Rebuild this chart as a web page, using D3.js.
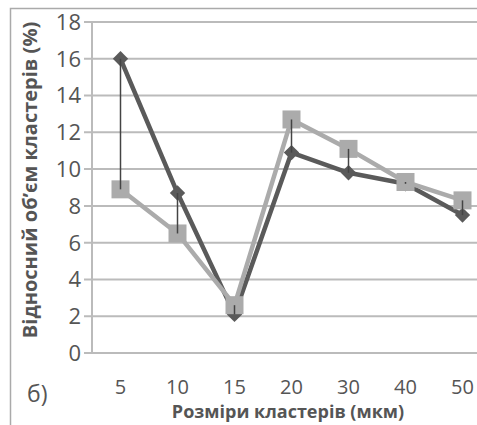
<!DOCTYPE html>
<html>
<head>
<meta charset="utf-8">
<script src="https://cdn.jsdelivr.net/npm/d3@7"></script>
<style>
  body { margin: 0; background: #fff; }
  text { font-family: "Open Sans", "DejaVu Sans", sans-serif; fill: #555; }
</style>
</head>
<body>
<div id="chart"></div>
<script>
// categories: cluster sizes (um)
const sizes = ['5', '10', '15', '20', '30', '40', '50'];
// series values (%)
const darkSeries = [16.0, 8.7, 2.1, 10.9, 9.8, 9.2, 7.5];
const lightSeries = [8.9, 6.5, 2.6, 12.7, 11.1, 9.3, 8.3];
const yTicks = [0, 2, 4, 6, 8, 10, 12, 14, 16, 18];

const width = 477, height = 425;

const svg = d3.select('#chart')
    .append('svg')
        .attr('width', width)
        .attr('height', height);

// chart frame
svg.append('rect')
    .attr('x', 10.5).attr('y', 8.5)
    .attr('width', 500).attr('height', 500)
    .attr('fill', 'none')
    .attr('stroke', '#aaa')
    .attr('stroke-width', 1.5);

const x = d3.scaleBand().domain(sizes).range([92, 491]);
const y = d3.scaleLinear().domain([0, 18]).range([353, 22]);
const cx = d => x(d) + x.bandwidth() / 2;

// gridlines
svg.append('g')
    .selectAll('line')
    .data(yTicks)
    .enter()
    .append('line')
        .attr('x1', 84).attr('x2', 491)
        .attr('y1', d => y(d)).attr('y2', d => y(d))
        .attr('stroke', '#bbb')
        .attr('stroke-width', 2);

// left axis line
svg.append('line')
    .attr('x1', 92).attr('x2', 92)
    .attr('y1', y(18)).attr('y2', y(0))
    .attr('stroke', '#bbb')
    .attr('stroke-width', 2);

// y tick labels
svg.append('g')
    .selectAll('text')
    .data(yTicks)
    .enter()
    .append('text')
        .attr('x', 81)
        .attr('y', d => y(d))
        .attr('dy', '0.36em')
        .attr('text-anchor', 'end')
        .style('font-size', '22px')
        .text(d => d);

// x tick labels
svg.append('g')
    .selectAll('text')
    .data(sizes)
    .enter()
    .append('text')
        .attr('x', d => cx(d))
        .attr('y', 387)
        .attr('dy', '0.36em')
        .attr('text-anchor', 'middle')
        .style('font-size', '20px')
        .text(d => d);

const line = d3.line()
    .x((d, i) => cx(sizes[i]))
    .y(d => y(d));

// dark series
svg.append('path')
    .datum(darkSeries)
    .attr('d', line)
    .attr('fill', 'none')
    .attr('stroke', '#5a5a5a')
    .attr('stroke-width', 4.5)
    .attr('stroke-linejoin', 'round');

svg.append('g')
    .selectAll('path')
    .data(darkSeries)
    .enter()
    .append('path')
        .attr('d', d3.symbol().type(d3.symbolDiamond2).size(150))
        .attr('transform', (d, i) => 'translate(' + cx(sizes[i]) + ',' + y(d) + ')')
        .attr('fill', '#5a5a5a');

// light series
svg.append('path')
    .datum(lightSeries)
    .attr('d', line)
    .attr('fill', 'none')
    .attr('stroke', '#ababab')
    .attr('stroke-width', 4.5)
    .attr('stroke-linejoin', 'round');

svg.append('g')
    .selectAll('rect')
    .data(lightSeries)
    .enter()
    .append('rect')
        .attr('x', (d, i) => cx(sizes[i]) - 9)
        .attr('y', d => y(d) - 9)
        .attr('width', 18)
        .attr('height', 18)
        .attr('fill', '#ababab');

// high-low lines
svg.append('g')
    .selectAll('line')
    .data(sizes)
    .enter()
    .append('line')
        .attr('x1', d => cx(d)).attr('x2', d => cx(d))
        .attr('y1', (d, i) => y(Math.max(darkSeries[i], lightSeries[i])))
        .attr('y2', (d, i) => y(Math.min(darkSeries[i], lightSeries[i])))
        .attr('stroke', '#444')
        .attr('stroke-width', 1.5);

// axis titles
svg.append('text')
    .attr('transform', 'translate(37,' + 180 + ') rotate(-90)')
    .attr('text-anchor', 'middle')
    .style('font-size', '20px')
    .style('font-weight', 'bold')
    .text('Відносний об\u2019єм кластерів (%)');

svg.append('text')
    .attr('x', 288)
    .attr('y', 418)
    .attr('text-anchor', 'middle')
    .style('font-size', '18px')
    .style('font-weight', 'bold')
    .text('Розміри кластерів (мкм)');

svg.append('text')
    .attr('x', 27)
    .attr('y', 394)
    .attr('dy', '0.36em')
    .style('font-size', '23px')
    .text('б)');
</script>
</body>
</html>
